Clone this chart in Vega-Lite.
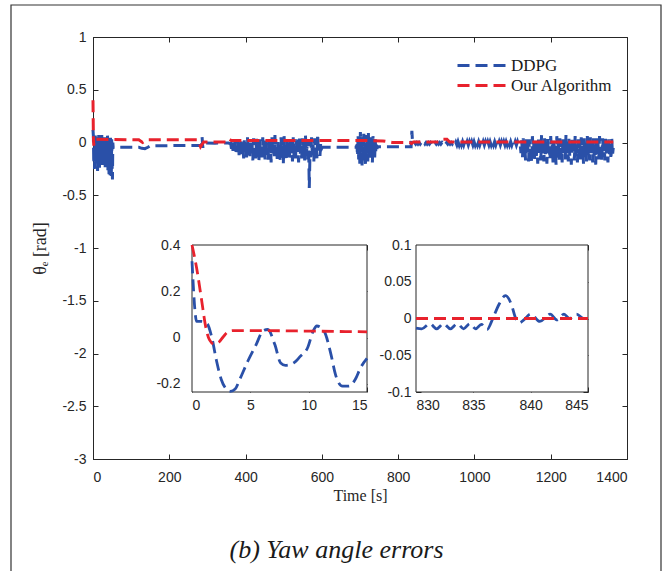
{
  "$schema": "https://vega.github.io/schema/vega-lite/v6.json",
  "width": 534,
  "height": 422,
  "autosize": {"type": "none"},
  "padding": {"left": 93, "top": 37, "right": 41, "bottom": 112},
  "background": "white",
  "config": {
    "view": {"stroke": "#262626", "strokeWidth": 1},
    "axis": {"grid": false, "labelFont": "Liberation Sans", "labelFontSize": 14, "labelColor": "#262626", "domainColor": "#262626", "domainWidth": 1, "tickColor": "#262626", "tickWidth": 1, "tickSize": -5, "labelPadding": 11, "titleFont": "Liberation Serif", "titleFontWeight": "normal", "titleFontSize": 16, "titleColor": "#262626"},
    "legend": {"orient": "none", "legendX": 377, "legendY": 17, "padding": 0, "labelFont": "Liberation Serif", "labelFontSize": 17, "labelColor": "#1a1a1a", "symbolType": "M-2.4,0H2.4", "symbolSize": 400, "symbolStrokeWidth": 2.8, "symbolDash": [12, 6], "symbolFillColor": "transparent", "rowPadding": 0, "labelOffset": 18}
  },
  "datasets": {
    "ddpg": [
      {"t":0,"v":0.12},{"t":1,"v":0.06},{"t":2,"v":-0.2},{"t":3,"v":0.05},{"t":4,"v":-0.25},{"t":5,"v":-0.02},{"t":6,"v":0.07},{"t":7,"v":-0.15},{"t":8,"v":0.03},{"t":9,"v":-0.22},{"t":10,"v":0.05},{"t":11,"v":-0.1},{"t":12,"v":-0.27},{"t":13,"v":0.02},{"t":14,"v":-0.18},{"t":15,"v":0.07},{"t":16,"v":-0.08},{"t":17,"v":-0.24},{"t":18,"v":0.04},{"t":19,"v":-0.13},{"t":20,"v":0.06},{"t":21,"v":-0.2},{"t":22,"v":-0.02},{"t":23,"v":0.07},{"t":24,"v":-0.16},{"t":25,"v":-0.22},{"t":26,"v":0.03},{"t":27,"v":-0.1},{"t":28,"v":0.05},{"t":29,"v":-0.19},{"t":30,"v":-0.06},{"t":31,"v":0.06},{"t":32,"v":-0.25},{"t":33,"v":0.0},{"t":34,"v":-0.12},{"t":35,"v":0.05},{"t":36,"v":-0.2},{"t":37,"v":-0.04},{"t":38,"v":0.07},{"t":39,"v":-0.27},{"t":40,"v":0.02},{"t":41,"v":-0.15},{"t":42,"v":-0.3},{"t":43,"v":0.04},{"t":44,"v":-0.08},{"t":45,"v":-0.31},{"t":46,"v":0.05},{"t":47,"v":-0.12},{"t":48,"v":-0.33},{"t":49,"v":0.03},{"t":50,"v":-0.2},{"t":51,"v":-0.35},{"t":52,"v":0.0},{"t":53,"v":-0.05},
      {"t":60,"v":-0.045},{"t":90,"v":-0.045},{"t":120,"v":-0.045},{"t":128,"v":-0.055},{"t":136,"v":-0.058},{"t":144,"v":-0.045},{"t":150,"v":-0.032},{"t":200,"v":-0.03},{"t":250,"v":-0.028},{"t":284,"v":-0.027},{"t":286,"v":0.05},{"t":288,"v":-0.05},{"t":290,"v":-0.005},{"t":320,"v":-0.006},{"t":355,"v":-0.005},{"t":359,"v":-0.01},
      {"t":361,"v":-0.01},{"t":363,"v":-0.06},{"t":365,"v":0.0},{"t":367,"v":-0.08},{"t":369,"v":-0.02},{"t":371,"v":-0.07},{"t":373,"v":0.01},{"t":375,"v":-0.09},{"t":377,"v":-0.03},{"t":379,"v":-0.1},{"t":381,"v":0.02},{"t":383,"v":-0.12},{"t":385,"v":-0.01},{"t":387,"v":-0.13},{"t":389,"v":0.03},{"t":391,"v":-0.11},{"t":393,"v":-0.04},{"t":395,"v":-0.15},{"t":397,"v":0.04},{"t":399,"v":-0.09},{"t":401,"v":-0.02},{"t":403,"v":-0.16},{"t":405,"v":0.05},{"t":407,"v":-0.12},{"t":409,"v":-0.05},{"t":411,"v":-0.14},{"t":413,"v":0.02},{"t":415,"v":-0.1},{"t":417,"v":-0.01},{"t":419,"v":-0.17},{"t":421,"v":0.04},{"t":423,"v":-0.13},{"t":425,"v":-0.03},{"t":427,"v":-0.15},{"t":429,"v":0.06},{"t":431,"v":-0.08},{"t":433,"v":-0.02},{"t":435,"v":-0.18},{"t":437,"v":0.03},{"t":439,"v":-0.12},{"t":441,"v":-0.04},{"t":443,"v":-0.14},{"t":445,"v":0.05},{"t":447,"v":-0.1},{"t":449,"v":0.0},{"t":451,"v":-0.16},{"t":453,"v":0.04},{"t":455,"v":-0.13},{"t":457,"v":-0.05},{"t":459,"v":-0.17},{"t":461,"v":0.02},{"t":463,"v":-0.11},{"t":465,"v":-0.01},{"t":467,"v":-0.19},{"t":469,"v":0.06},{"t":471,"v":-0.09},{"t":473,"v":-0.03},{"t":475,"v":-0.15},{"t":477,"v":0.07},{"t":479,"v":-0.12},{"t":481,"v":-0.02},{"t":483,"v":-0.16},{"t":485,"v":0.03},{"t":487,"v":-0.1},{"t":489,"v":-0.04},{"t":491,"v":-0.18},{"t":493,"v":0.05},{"t":495,"v":-0.13},{"t":497,"v":-0.01},{"t":499,"v":-0.2},{"t":501,"v":0.06},{"t":503,"v":-0.11},{"t":505,"v":-0.03},{"t":507,"v":-0.15},{"t":509,"v":0.04},{"t":511,"v":-0.12},{"t":513,"v":-0.05},{"t":515,"v":-0.17},{"t":517,"v":0.02},{"t":519,"v":-0.1},{"t":521,"v":0.0},{"t":523,"v":-0.18},{"t":525,"v":0.05},{"t":527,"v":-0.13},{"t":529,"v":-0.04},{"t":531,"v":-0.16},{"t":533,"v":0.03},{"t":535,"v":-0.11},{"t":537,"v":-0.02},{"t":539,"v":-0.19},{"t":541,"v":0.06},{"t":543,"v":-0.12},{"t":545,"v":-0.03},{"t":547,"v":-0.15},{"t":549,"v":0.04},{"t":551,"v":-0.1},{"t":553,"v":-0.01},{"t":555,"v":-0.17},{"t":557,"v":0.07},{"t":559,"v":-0.12},{"t":561,"v":-0.04},{"t":563,"v":-0.16},{"t":565,"v":0.03},{"t":567,"v":-0.43},{"t":569,"v":-0.08},{"t":571,"v":-0.14},{"t":573,"v":0.05},{"t":575,"v":-0.11},{"t":577,"v":-0.02},{"t":579,"v":-0.18},{"t":581,"v":0.04},{"t":583,"v":-0.12},{"t":585,"v":-0.03},{"t":587,"v":-0.15},{"t":589,"v":0.08},{"t":591,"v":-0.1},{"t":593,"v":-0.02},{"t":595,"v":-0.13},{"t":597,"v":0.0},{"t":599,"v":-0.06},{"t":601,"v":-0.045},
      {"t":650,"v":-0.045},{"t":690,"v":-0.045},
      {"t":692,"v":-0.02},{"t":693.5,"v":-0.13},{"t":695,"v":0.06},{"t":696.5,"v":-0.16},{"t":698,"v":0.02},{"t":699.5,"v":-0.2},{"t":701,"v":0.1},{"t":702.5,"v":-0.09},{"t":704,"v":0.03},{"t":705.5,"v":-0.24},{"t":707,"v":0.05},{"t":708.5,"v":-0.12},{"t":710,"v":0.11},{"t":711.5,"v":-0.17},{"t":713,"v":0.0},{"t":714.5,"v":-0.21},{"t":716,"v":0.07},{"t":717.5,"v":-0.1},{"t":719,"v":0.04},{"t":720.5,"v":-0.18},{"t":722,"v":0.09},{"t":723.5,"v":-0.13},{"t":725,"v":-0.01},{"t":726.5,"v":-0.16},{"t":728,"v":0.05},{"t":729.5,"v":-0.11},{"t":731,"v":0.02},{"t":732.5,"v":-0.19},{"t":734,"v":0.06},{"t":735.5,"v":-0.12},{"t":737,"v":-0.02},{"t":738.5,"v":-0.15},{"t":740,"v":0.03},{"t":741.5,"v":-0.09},{"t":743,"v":-0.02},{"t":744.5,"v":-0.06},{"t":746,"v":-0.04},
      {"t":760,"v":-0.04},{"t":800,"v":-0.04},{"t":834,"v":-0.04},{"t":836,"v":0.11},{"t":838,"v":-0.01},{"t":840,"v":-0.005},
      {"t":843,"v":0.0},{"t":846,"v":-0.015},{"t":849,"v":0.0},{"t":852,"v":-0.015},{"t":855,"v":0.0},{"t":858,"v":-0.015},{"t":861,"v":0.0},{"t":864,"v":-0.015},{"t":867,"v":0.0},{"t":870,"v":-0.015},{"t":873,"v":0.0},{"t":876,"v":-0.015},{"t":879,"v":0.0},{"t":882,"v":-0.015},{"t":885,"v":0.0},{"t":888,"v":-0.015},{"t":891,"v":0.0},{"t":894,"v":-0.015},{"t":897,"v":0.0},{"t":900,"v":-0.015},{"t":903,"v":0.0},{"t":906,"v":-0.015},{"t":909,"v":0.0},{"t":912,"v":-0.015},{"t":915,"v":0.0},{"t":918,"v":-0.015},{"t":921,"v":0.0},{"t":924,"v":-0.015},{"t":927,"v":0.0},{"t":930,"v":-0.015},{"t":933,"v":0.0},{"t":936,"v":-0.015},{"t":939,"v":0.0},{"t":942,"v":-0.015},{"t":945,"v":0.0},{"t":948,"v":-0.02},{"t":951,"v":0.005},{"t":954,"v":-0.025},{"t":957,"v":0.01},{"t":960,"v":-0.025},{"t":963,"v":0.01},{"t":966,"v":-0.025},{"t":969,"v":0.01},{"t":972,"v":-0.025},{"t":975,"v":0.01},{"t":978,"v":-0.025},{"t":981,"v":0.01},{"t":984,"v":-0.025},{"t":987,"v":0.01},{"t":990,"v":-0.025},{"t":993,"v":0.01},{"t":996,"v":-0.025},{"t":999,"v":0.01},{"t":1002,"v":-0.025},{"t":1005,"v":0.01},{"t":1008,"v":-0.025},{"t":1011,"v":0.01},{"t":1014,"v":-0.025},{"t":1017,"v":0.01},{"t":1020,"v":-0.025},{"t":1023,"v":0.01},{"t":1026,"v":-0.025},{"t":1029,"v":0.01},{"t":1032,"v":-0.025},{"t":1035,"v":0.01},{"t":1038,"v":-0.025},{"t":1041,"v":0.01},{"t":1044,"v":-0.025},{"t":1047,"v":0.01},{"t":1050,"v":-0.025},{"t":1053,"v":0.01},{"t":1056,"v":-0.025},{"t":1059,"v":0.01},{"t":1062,"v":-0.025},{"t":1065,"v":0.01},{"t":1068,"v":-0.025},{"t":1071,"v":0.01},{"t":1074,"v":-0.025},{"t":1077,"v":0.01},{"t":1080,"v":-0.025},{"t":1083,"v":0.01},{"t":1086,"v":-0.025},{"t":1089,"v":0.01},{"t":1092,"v":-0.025},{"t":1095,"v":0.01},{"t":1098,"v":-0.025},{"t":1101,"v":0.01},{"t":1104,"v":-0.025},{"t":1107,"v":0.01},{"t":1110,"v":-0.025},{"t":1113,"v":0.01},{"t":1116,"v":-0.025},
      {"t":1120,"v":-0.02},{"t":1122,"v":-0.1},{"t":1124,"v":0.02},{"t":1126,"v":-0.14},{"t":1128,"v":0.04},{"t":1130,"v":-0.12},{"t":1132,"v":-0.01},{"t":1134,"v":-0.17},{"t":1136,"v":0.05},{"t":1138,"v":-0.11},{"t":1140,"v":-0.03},{"t":1142,"v":-0.18},{"t":1144,"v":0.03},{"t":1146,"v":-0.13},{"t":1148,"v":-0.04},{"t":1150,"v":-0.19},{"t":1152,"v":0.06},{"t":1154,"v":-0.1},{"t":1156,"v":0.0},{"t":1158,"v":-0.16},{"t":1160,"v":0.04},{"t":1162,"v":-0.14},{"t":1164,"v":-0.05},{"t":1166,"v":-0.2},{"t":1168,"v":0.05},{"t":1170,"v":-0.12},{"t":1172,"v":-0.02},{"t":1174,"v":-0.17},{"t":1176,"v":0.07},{"t":1178,"v":-0.13},{"t":1180,"v":-0.03},{"t":1182,"v":-0.18},{"t":1184,"v":0.04},{"t":1186,"v":-0.11},{"t":1188,"v":0.0},{"t":1190,"v":-0.2},{"t":1192,"v":0.05},{"t":1194,"v":-0.12},{"t":1196,"v":-0.04},{"t":1198,"v":-0.16},{"t":1200,"v":0.06},{"t":1202,"v":-0.1},{"t":1204,"v":-0.02},{"t":1206,"v":-0.19},{"t":1208,"v":0.03},{"t":1210,"v":-0.14},{"t":1212,"v":-0.03},{"t":1214,"v":-0.21},{"t":1216,"v":0.06},{"t":1218,"v":-0.11},{"t":1220,"v":0.01},{"t":1222,"v":-0.17},{"t":1224,"v":0.04},{"t":1226,"v":-0.13},{"t":1228,"v":-0.05},{"t":1230,"v":-0.19},{"t":1232,"v":0.05},{"t":1234,"v":-0.12},{"t":1236,"v":-0.02},{"t":1238,"v":-0.16},{"t":1240,"v":0.07},{"t":1242,"v":-0.11},{"t":1244,"v":0.0},{"t":1246,"v":-0.18},{"t":1248,"v":0.04},{"t":1250,"v":-0.13},{"t":1252,"v":-0.03},{"t":1254,"v":-0.21},{"t":1256,"v":0.05},{"t":1258,"v":-0.1},{"t":1260,"v":-0.01},{"t":1262,"v":-0.17},{"t":1264,"v":0.06},{"t":1266,"v":-0.14},{"t":1268,"v":-0.04},{"t":1270,"v":-0.19},{"t":1272,"v":0.03},{"t":1274,"v":-0.12},{"t":1276,"v":0.0},{"t":1278,"v":-0.16},{"t":1280,"v":0.05},{"t":1282,"v":-0.11},{"t":1284,"v":-0.03},{"t":1286,"v":-0.2},{"t":1288,"v":0.04},{"t":1290,"v":-0.13},{"t":1292,"v":-0.02},{"t":1294,"v":-0.18},{"t":1296,"v":0.06},{"t":1298,"v":-0.12},{"t":1300,"v":-0.04},{"t":1302,"v":-0.17},{"t":1304,"v":0.05},{"t":1306,"v":-0.1},{"t":1308,"v":0.0},{"t":1310,"v":-0.19},{"t":1312,"v":0.04},{"t":1314,"v":-0.13},{"t":1316,"v":-0.03},{"t":1318,"v":-0.21},{"t":1320,"v":0.05},{"t":1322,"v":-0.11},{"t":1324,"v":-0.01},{"t":1326,"v":-0.16},{"t":1328,"v":0.06},{"t":1330,"v":-0.12},{"t":1332,"v":-0.04},{"t":1334,"v":-0.18},{"t":1336,"v":0.04},{"t":1338,"v":-0.1},{"t":1340,"v":0.0},{"t":1342,"v":-0.17},{"t":1344,"v":0.05},{"t":1346,"v":-0.13},{"t":1348,"v":-0.03},{"t":1350,"v":-0.19},{"t":1352,"v":0.03},{"t":1354,"v":-0.11},{"t":1356,"v":-0.02},{"t":1358,"v":-0.16},{"t":1360,"v":0.04},{"t":1362,"v":-0.12},{"t":1364,"v":-0.05}
    ],
    "ours": [
      {"t":0,"v":0.4},{"t":1,"v":0.06},{"t":2,"v":-0.03},{"t":3,"v":0.03},{"t":120,"v":0.025},{"t":130,"v":0.0},{"t":140,"v":0.025},{"t":275,"v":0.025},{"t":282,"v":-0.04},{"t":290,"v":0.005},{"t":350,"v":0.005},{"t":356,"v":0.035},{"t":362,"v":0.02},{"t":500,"v":0.02},{"t":600,"v":0.02},{"t":700,"v":0.02},{"t":760,"v":0.015},{"t":785,"v":0.0},{"t":830,"v":0.0},{"t":835,"v":-0.01},{"t":840,"v":0.005},{"t":910,"v":0.005},{"t":918,"v":0.03},{"t":928,"v":0.03},{"t":935,"v":0.005},{"t":1100,"v":0.005},{"t":1364,"v":0.005}
    ],
    "d1": [
      {"t":0,"v":0.33},{"t":0.4,"v":0.07},{"t":0.8,"v":0.07},{"t":1.3,"v":0.06},{"t":1.7,"v":0.0},{"t":2.1,"v":-0.1},{"t":2.5,"v":-0.18},{"t":2.9,"v":-0.22},{"t":3.3,"v":-0.232},{"t":3.7,"v":-0.222},{"t":4.1,"v":-0.18},{"t":4.8,"v":-0.1},{"t":5.5,"v":-0.03},{"t":6.1,"v":0.03},{"t":6.5,"v":0.035},{"t":7.1,"v":-0.03},{"t":7.6,"v":-0.11},{"t":8.0,"v":-0.12},{"t":8.7,"v":-0.11},{"t":9.3,"v":-0.08},{"t":9.9,"v":-0.045},{"t":10.4,"v":0.03},{"t":10.7,"v":0.05},{"t":11.3,"v":0.03},{"t":11.9,"v":-0.07},{"t":12.3,"v":-0.16},{"t":12.9,"v":-0.21},{"t":13.45,"v":-0.21},{"t":14.0,"v":-0.18},{"t":14.45,"v":-0.13},{"t":15,"v":-0.09}
    ],
    "o1": [
      {"t":0,"v":0.4},{"t":0.4,"v":0.3},{"t":0.8,"v":0.17},{"t":1.2,"v":0.04},{"t":1.5,"v":-0.01},{"t":1.9,"v":-0.028},{"t":2.3,"v":-0.02},{"t":2.7,"v":0.005},{"t":3.1,"v":0.025},{"t":3.5,"v":0.03},{"t":6,"v":0.03},{"t":10,"v":0.028},{"t":15,"v":0.025}
    ],
    "d2": [
      {"t":830.0,"v":-0.013},{"t":830.5,"v":-0.014},{"t":831.2,"v":-0.007},{"t":831.8,"v":-0.014},{"t":832.4,"v":-0.007},{"t":833.0,"v":-0.014},{"t":833.6,"v":-0.007},{"t":834.15,"v":-0.014},{"t":834.7,"v":-0.007},{"t":835.2,"v":-0.014},{"t":835.7,"v":-0.008},{"t":836.2,"v":-0.015},{"t":836.7,"v":0.0},{"t":837.2,"v":0.018},{"t":837.8,"v":0.031},{"t":838.3,"v":0.02},{"t":838.7,"v":0.0},{"t":839.0,"v":-0.006},{"t":839.4,"v":-0.002},{"t":840.0,"v":0.006},{"t":840.8,"v":-0.004},{"t":841.7,"v":0.006},{"t":842.3,"v":-0.002},{"t":842.9,"v":0.006},{"t":843.4,"v":0.0},{"t":844.0,"v":0.006},{"t":844.6,"v":0.0},{"t":845.0,"v":0.0}
    ],
    "o2": [
      {"t":830,"v":0.0},{"t":845,"v":0.0}
    ]
  },
  "resolve": {"scale": {"x": "independent", "y": "independent"}, "axis": {"x": "independent", "y": "independent"}},
  "layer": [
    {
      "data": {"values": [{"k": 1}]},
      "mark": {"type": "rect", "fill": null, "fillOpacity": 0, "stroke": "#333333", "strokeWidth": 1.2, "clip": false},
      "encoding": {
        "x": {"datum": 0, "type": "quantitative", "scale": {"domain": [0, 1], "range": [-82, 568], "nice": false, "zero": false}, "axis": null},
        "x2": {"datum": 1},
        "y": {"datum": 0, "type": "quantitative", "scale": {"domain": [0, 1], "range": [541, -32], "nice": false, "zero": false}, "axis": null},
        "y2": {"datum": 1}
      }
    },
    {
      "layer": [
        {
          "data": {"name": "ddpg"},
          "mark": {"type": "line", "strokeDash": [12, 6], "strokeWidth": 3},
          "encoding": {
            "x": {"field": "t", "type": "quantitative", "scale": {"domain": [0, 1400], "nice": false, "zero": false}, "axis": {"orient": "bottom", "values": [0, 200, 400, 600, 800, 1000, 1200, 1400], "labelExpr": "'' + datum.value", "labelPadding": 16, "title": "Time [s]", "titlePadding": 3}},
            "y": {"field": "v", "type": "quantitative", "scale": {"domain": [-3, 1], "nice": false, "zero": false}, "axis": {"orient": "left", "values": [-3, -2.5, -2, -1.5, -1, -0.5, 0, 0.5, 1], "labelExpr": "'' + datum.value", "labelPadding": 12, "title": "θₑ [rad]", "titleFontSize": 18, "titlePadding": 12}},
            "color": {"datum": "DDPG", "type": "nominal", "scale": {"domain": ["DDPG", "Our Algorithm"], "range": ["#2a50a8", "#e8222d"]}, "legend": {"title": null}}
          }
        },
        {
          "data": {"name": "ours"},
          "mark": {"type": "line", "strokeDash": [12, 6], "strokeWidth": 3},
          "encoding": {
            "x": {"field": "t", "type": "quantitative", "scale": {"domain": [0, 1400], "nice": false, "zero": false}},
            "y": {"field": "v", "type": "quantitative", "scale": {"domain": [-3, 1], "nice": false, "zero": false}},
            "color": {"datum": "Our Algorithm", "type": "nominal"}
          }
        }
      ]
    },
    {
      "data": {"values": [{"t": 0, "v": 0}]},
      "mark": {"type": "point", "opacity": 0},
      "encoding": {
        "x": {"field": "t", "type": "quantitative", "scale": {"domain": [0, 1400], "nice": false, "zero": false}, "axis": {"orient": "top", "values": [0, 200, 400, 600, 800, 1000, 1200, 1400], "labels": false, "domain": false, "title": null}},
        "y": {"field": "v", "type": "quantitative", "scale": {"domain": [-3, 1], "nice": false, "zero": false}, "axis": {"orient": "right", "values": [-3, -2.5, -2, -1.5, -1, -0.5, 0, 0.5, 1], "labels": false, "domain": false, "title": null}}
      }
    },
    {
      "data": {"values": [{"t": 0}]},
      "mark": {"type": "point", "opacity": 0},
      "encoding": {
        "x": {"field": "t", "type": "quantitative", "scale": {"domain": [0, 1400], "nice": false, "zero": false}, "axis": {"orient": "bottom", "labels": false, "ticks": false, "domain": false, "title": "(b) Yaw angle errors", "titleFont": "Liberation Serif", "titleFontStyle": "italic", "titleFontWeight": "normal", "titleFontSize": 26, "titleColor": "#1a1a1a", "titleX": 243, "titleY": 77, "titleAlign": "center", "titleBaseline": "top"}}
      }
    },
    {
      "layer": [
        {
          "data": {"values": [{"k": 1}]},
          "mark": {"type": "rect", "fill": "white", "stroke": "#262626", "strokeWidth": 1},
          "encoding": {
            "x": {"datum": 0, "type": "quantitative", "scale": {"domain": [0, 15], "range": [99, 274], "nice": false, "zero": false}, "axis": {"orient": "bottom", "offset": -67, "values": [0, 5, 10, 15], "labelExpr": "'' + datum.value", "labelPadding": 11, "domain": false, "title": null}},
            "x2": {"datum": 15},
            "y": {"datum": -0.235, "type": "quantitative", "scale": {"domain": [-0.235, 0.4], "range": [355, 208], "nice": false, "zero": false}, "axis": {"orient": "left", "offset": -99, "values": [-0.2, 0, 0.2, 0.4], "labelExpr": "'' + datum.value", "labelPadding": 17, "domain": false, "title": null}},
            "y2": {"datum": 0.4}
          }
        },
        {
          "data": {"name": "d1"},
          "mark": {"type": "line", "strokeDash": [12, 6], "strokeWidth": 2.8, "interpolate": "monotone", "color": "#2a50a8"},
          "encoding": {
            "x": {"field": "t", "type": "quantitative", "scale": {"domain": [0, 15], "range": [99, 274], "nice": false, "zero": false}},
            "y": {"field": "v", "type": "quantitative", "scale": {"domain": [-0.235, 0.4], "range": [355, 208], "nice": false, "zero": false}}
          }
        },
        {
          "data": {"name": "o1"},
          "mark": {"type": "line", "strokeDash": [12, 6], "strokeWidth": 2.8, "interpolate": "monotone", "color": "#e8222d"},
          "encoding": {
            "x": {"field": "t", "type": "quantitative", "scale": {"domain": [0, 15], "range": [99, 274], "nice": false, "zero": false}},
            "y": {"field": "v", "type": "quantitative", "scale": {"domain": [-0.235, 0.4], "range": [355, 208], "nice": false, "zero": false}}
          }
        }
      ]
    },
    {
      "data": {"values": [{"t": 0, "v": 0}]},
      "mark": {"type": "point", "opacity": 0},
      "encoding": {
        "x": {"field": "t", "type": "quantitative", "scale": {"domain": [0, 15], "range": [99, 274], "nice": false, "zero": false}, "axis": {"orient": "top", "offset": -208, "values": [0, 5, 10, 15], "labels": false, "domain": false, "title": null}},
        "y": {"field": "v", "type": "quantitative", "scale": {"domain": [-0.235, 0.4], "range": [355, 208], "nice": false, "zero": false}, "axis": {"orient": "right", "offset": -260, "values": [-0.2, 0, 0.2, 0.4], "labels": false, "domain": false, "title": null}}
      }
    },
    {
      "layer": [
        {
          "data": {"values": [{"k": 1}]},
          "mark": {"type": "rect", "fill": "white", "stroke": "#262626", "strokeWidth": 1},
          "encoding": {
            "x": {"datum": 830, "type": "quantitative", "scale": {"domain": [830, 845], "range": [323, 495], "nice": false, "zero": false}, "axis": {"orient": "bottom", "offset": -67, "values": [830, 835, 840, 845], "labelExpr": "'' + datum.value", "labelPadding": 11, "domain": false, "title": null}},
            "x2": {"datum": 845},
            "y": {"datum": -0.1, "type": "quantitative", "scale": {"domain": [-0.1, 0.1], "range": [355, 208], "nice": false, "zero": false}, "axis": {"orient": "left", "offset": -323, "values": [-0.1, -0.05, 0, 0.05, 0.1], "labelExpr": "'' + datum.value", "labelPadding": 10, "domain": false, "title": null}},
            "y2": {"datum": 0.1}
          }
        },
        {
          "data": {"name": "d2"},
          "mark": {"type": "line", "strokeDash": [12, 6], "strokeWidth": 2.8, "interpolate": "monotone", "color": "#2a50a8"},
          "encoding": {
            "x": {"field": "t", "type": "quantitative", "scale": {"domain": [830, 845], "range": [323, 495], "nice": false, "zero": false}},
            "y": {"field": "v", "type": "quantitative", "scale": {"domain": [-0.1, 0.1], "range": [355, 208], "nice": false, "zero": false}}
          }
        },
        {
          "data": {"name": "o2"},
          "mark": {"type": "line", "strokeDash": [12, 6], "strokeWidth": 2.8, "color": "#e8222d"},
          "encoding": {
            "x": {"field": "t", "type": "quantitative", "scale": {"domain": [830, 845], "range": [323, 495], "nice": false, "zero": false}},
            "y": {"field": "v", "type": "quantitative", "scale": {"domain": [-0.1, 0.1], "range": [355, 208], "nice": false, "zero": false}}
          }
        }
      ]
    },
    {
      "data": {"values": [{"t": 830, "v": 0}]},
      "mark": {"type": "point", "opacity": 0},
      "encoding": {
        "x": {"field": "t", "type": "quantitative", "scale": {"domain": [830, 845], "range": [323, 495], "nice": false, "zero": false}, "axis": {"orient": "top", "offset": -208, "values": [830, 835, 840, 845], "labels": false, "domain": false, "title": null}},
        "y": {"field": "v", "type": "quantitative", "scale": {"domain": [-0.1, 0.1], "range": [355, 208], "nice": false, "zero": false}, "axis": {"orient": "right", "offset": -39, "values": [-0.1, -0.05, 0, 0.05, 0.1], "labels": false, "domain": false, "title": null}}
      }
    }
  ]
}
